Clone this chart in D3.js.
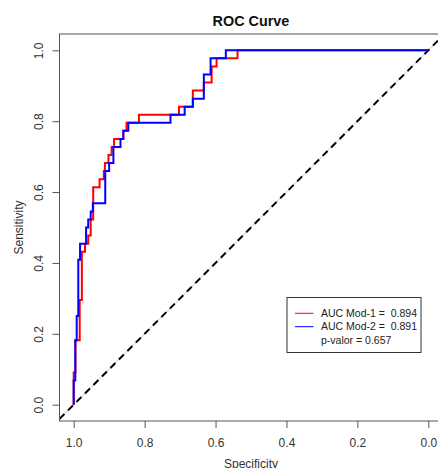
<!DOCTYPE html>
<html>
<head>
<meta charset="utf-8">
<script src="https://cdn.jsdelivr.net/npm/d3@7"></script>
<style>
  body { margin: 0; background: #fff; }
  svg { display: block; font-family: "Liberation Sans", Arial, sans-serif; }
</style>
</head>
<body>
<div id="content"></div>
<script>
// ROC points (specificity, sensitivity), drawn as steps
var spec1 = [1, 0.995, 0.983, 0.977, 0.968, 0.959, 0.952, 0.945, 0.927, 0.915, 0.912, 0.902, 0.893,
             0.886, 0.860, 0.851, 0.816, 0.703, 0.664, 0.633, 0.611, 0.597, 0.538, 0];
var sens1 = [0, 0.0909, 0.1818, 0.2955, 0.4318, 0.4545, 0.4773, 0.5227, 0.6136, 0.6364, 0.6591, 0.6818, 0.7045,
             0.7273, 0.75, 0.7727, 0.7955, 0.8182, 0.8409, 0.8864, 0.9091, 0.9545, 0.9773, 1];

var spec2 = [1, 0.9955, 0.9915, 0.987, 0.982, 0.965, 0.959, 0.952, 0.946, 0.911, 0.900, 0.888, 0.868,
             0.860, 0.846, 0.727, 0.687, 0.664, 0.633, 0.614, 0.571, 0];
var sens2 = [0, 0.0682, 0.1818, 0.25, 0.4091, 0.4545, 0.5, 0.5227, 0.5455, 0.5682, 0.6591, 0.6818, 0.7273,
             0.75, 0.7727, 0.7955, 0.8182, 0.8409, 0.8636, 0.9318, 0.9773, 1];

var xTicks = [1.0, 0.8, 0.6, 0.4, 0.2, 0.0];
var yTicks = [0.0, 0.2, 0.4, 0.6, 0.8, 1.0];
var legendLabels = ["AUC Mod-1 =  0.894", "AUC Mod-2 =  0.891", "p-valor = 0.657"];
var colors = ["#ff0000", "#0000ff"];

var W = 438, H = 468;
var box = { left: 59.5, top: 34, right: 442.5, bottom: 421 };

var x = d3.scaleLinear().domain([1.04, -0.04]).range([box.left, box.right]);
var y = d3.scaleLinear().domain([-0.046, 1.046]).range([box.bottom, box.top]);

var svg = d3.select("#content").append("svg")
    .attr("width", W)
    .attr("height", H);

svg.append("clipPath").attr("id", "plotclip")
  .append("rect")
    .attr("x", box.left).attr("y", box.top)
    .attr("width", box.right - box.left).attr("height", box.bottom - box.top);

// diagonal: grey identity line plus black dashed line
var diag = [[1.04, -0.04], [-0.04, 1.04]];
var plot = svg.append("g").attr("clip-path", "url(#plotclip)");
plot.append("line")
    .attr("x1", x(diag[0][0])).attr("y1", y(diag[0][1]))
    .attr("x2", x(diag[1][0])).attr("y2", y(diag[1][1]))
    .attr("stroke", "#c8c8c8")
    .attr("stroke-width", 1);
plot.append("line")
    .attr("x1", x(diag[0][0])).attr("y1", y(diag[0][1]))
    .attr("x2", x(diag[1][0])).attr("y2", y(diag[1][1]))
    .attr("stroke", "#000")
    .attr("stroke-width", 2)
    .attr("stroke-dasharray", "7,5");

var line = d3.line()
    .curve(d3.curveStepBefore)
    .x(function (d) { return x(d[0]); })
    .y(function (d) { return y(d[1]); });

var series = [d3.zip(spec1, sens1), d3.zip(spec2, sens2)];
series.forEach(function (pts, i) {
  plot.append("path")
      .datum(pts)
      .attr("fill", "none")
      .attr("stroke", colors[i])
      .attr("stroke-width", 2)
      .attr("d", line);
});

// box
svg.append("rect")
    .attr("x", box.left).attr("y", box.top)
    .attr("width", box.right - box.left).attr("height", box.bottom - box.top)
    .attr("fill", "none")
    .attr("stroke", "#555")
    .attr("stroke-width", 1);

// axes
var fmt = d3.format(".1f");
var xAxis = svg.append("g")
    .attr("transform", "translate(0," + box.bottom + ")")
    .call(d3.axisBottom(x).tickValues(xTicks).tickFormat(fmt).tickSize(7).tickSizeOuter(0));
xAxis.select(".domain").remove();
xAxis.selectAll("line").attr("stroke", "#555");
xAxis.selectAll("text")
    .attr("y", 25.7)
    .attr("dy", null)
    .attr("fill", "#333")
    .style("font-size", "12px")
    .style("font-family", "Liberation Sans, Arial, sans-serif");

var yAxis = svg.append("g")
    .attr("transform", "translate(" + box.left + ",0)")
    .call(d3.axisLeft(y).tickValues(yTicks).tickFormat(fmt).tickSize(7).tickSizeOuter(0));
yAxis.select(".domain").remove();
yAxis.selectAll("line").attr("stroke", "#555");
yAxis.selectAll("text")
    .attr("x", 0)
    .attr("y", -16.5)
    .attr("dy", null)
    .attr("transform", "rotate(-90)")
    .attr("text-anchor", "middle")
    .attr("fill", "#333")
    .style("font-size", "12px")
    .style("font-family", "Liberation Sans, Arial, sans-serif");

// titles
var cx = (box.left + box.right) / 2;
svg.append("text")
    .attr("x", cx)
    .attr("y", 26)
    .attr("text-anchor", "middle")
    .style("font-size", "14.4px")
    .style("font-weight", "bold")
    .attr("fill", "#111")
    .text("ROC Curve");
svg.append("text")
    .attr("x", cx)
    .attr("y", 468)
    .attr("text-anchor", "middle")
    .style("font-size", "12px")
    .attr("fill", "#333")
    .text("Specificity");
svg.append("text")
    .attr("transform", "translate(22.5," + ((box.top + box.bottom) / 2) + ") rotate(-90)")
    .attr("text-anchor", "middle")
    .style("font-size", "12px")
    .attr("fill", "#333")
    .text("Sensitivity");

// legend
var lg = svg.append("g");
lg.append("rect")
    .attr("x", 287).attr("y", 297.5)
    .attr("width", 134).attr("height", 55)
    .attr("fill", "#fff")
    .attr("stroke", "#333")
    .attr("stroke-width", 1);
var rowY = [313.3, 326.7, 340.3];
legendLabels.forEach(function (lab, i) {
  if (i < colors.length)
    lg.append("line")
        .attr("x1", 295).attr("x2", 313.5)
        .attr("y1", rowY[i]).attr("y2", rowY[i])
        .attr("stroke", colors[i])
        .attr("stroke-width", 1);
  lg.append("text")
      .attr("x", 321)
      .attr("y", rowY[i])
      .attr("dy", "0.35em")
      .style("font-size", "10.5px")
      .style("white-space", "pre")
      .attr("fill", "#222")
      .text(lab);
});
</script>
</body>
</html>
